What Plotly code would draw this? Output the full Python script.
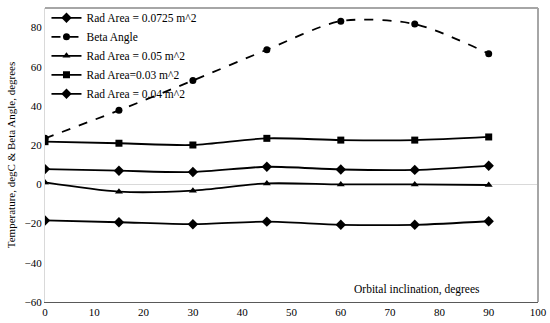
import plotly.graph_objects as go

inclination = [0, 15, 30, 45, 60, 75, 90]
rad_0725 = [-18.4, -19.3, -20.3, -19.0, -20.6, -20.6, -18.8]
beta_angle = [23.5, 37.8, 53.0, 68.7, 83.3, 81.8, 66.7]
rad_005 = [1.0, -3.7, -3.2, 0.5, 0.0, 0.0, -0.3]
rad_003 = [21.8, 21.0, 20.1, 23.5, 22.6, 22.6, 24.2]
rad_004 = [7.8, 7.0, 6.3, 9.0, 7.6, 7.4, 9.5]

x_ticks = [0, 10, 20, 30, 40, 50, 60, 70, 80, 90, 100]
y_ticks = [-60, -40, -20, 0, 20, 40, 60, 80]

series = [
    ("Rad Area = 0.0725 m^2", rad_0725, "diamond", "solid", 8),
    ("Beta Angle", beta_angle, "circle", "dash", 7),
    ("Rad Area = 0.05 m^2", rad_005, "triangle-up", "solid", 7),
    ("Rad Area=0.03 m^2", rad_003, "square", "solid", 7),
    ("Rad Area = 0.04 m^2", rad_004, "diamond", "solid", 8),
]

FONT = "Liberation Serif, Times New Roman, serif"

fig = go.Figure()
for name, ys, sym, dash, size in series:
    fig.add_trace(go.Scatter(
        x=inclination, y=ys, name=name, mode="lines+markers",
        line=dict(color="black", width=1.8, dash=dash, shape="spline", smoothing=0.8),
        marker=dict(symbol=sym, size=size, color="black"),
    ))

fig.update_layout(
    width=550, height=323,
    margin=dict(l=45, r=12, t=3, b=21),
    plot_bgcolor="white", paper_bgcolor="white",
    font=dict(family=FONT, size=11, color="black"),
    showlegend=True,
    legend=dict(x=0.003, y=1.016, xanchor="left", yanchor="top",
                bgcolor="rgba(255,255,255,0)", font=dict(family=FONT, size=11.5),
                tracegroupgap=0, itemwidth=30),
    xaxis=dict(range=[0, 100], tickvals=x_ticks, showgrid=False, zeroline=False,
               showline=True, linecolor="#595959", linewidth=1, ticks="",
               automargin=False, tickfont=dict(family=FONT, size=11)),
    yaxis=dict(range=[-60, 90], tickvals=y_ticks, showgrid=False,
               zeroline=True, zerolinecolor="#d9d9d9", zerolinewidth=1,
               showline=True, linecolor="#d9d9d9", linewidth=1, ticks="",
               automargin=False, tickfont=dict(family=FONT, size=11),
               title=dict(text="Temperature, degC & Beta Angle, degrees",
                          font=dict(family=FONT, size=11), standoff=6)),
    shapes=[
        dict(type="line", xref="paper", yref="paper", x0=0, x1=1, y0=1, y1=1,
             line=dict(color="#a6a6a6", width=2)),
        dict(type="line", xref="paper", yref="paper", x0=1, x1=1, y0=0, y1=1,
             line=dict(color="#a6a6a6", width=2)),
    ],
    annotations=[
        dict(text="Orbital inclination, degrees", x=0.755, y=-53.5, xref="paper", yref="y",
             showarrow=False, font=dict(family=FONT, size=11.5), xanchor="center", yanchor="middle"),
    ],
)

fig.write_html("out.html", config={"displayModeBar": False},
               post_script="document.body.style.margin='0';")
